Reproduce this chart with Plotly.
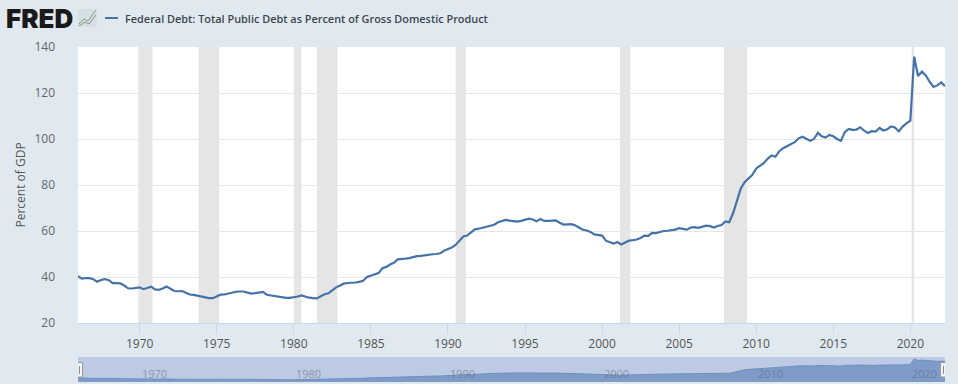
import pandas as pd
import plotly.graph_objects as go

W, H = 958, 384
TITLE = "Federal Debt: Total Public Debt as Percent of Gross Domestic Product"
Y_TITLE = "Percent of GDP"
LOGO = "FRED"
LEGEND_TEXT_X = 123

debt_1966_1975 = [40.4, 39.3, 39.5, 39.5, 39.0, 37.9, 38.7, 39.1, 38.6, 37.3, 37.3, 37.2, 36.3, 35.1, 35.0, 35.4,
                  35.5, 34.7, 35.1, 35.8, 34.6, 34.4, 35.0, 35.9, 34.9, 33.9, 33.8, 33.9, 33.2, 32.4, 32.2, 31.8,
                  31.4, 30.9, 30.8, 30.8, 31.6, 32.3, 32.4, 32.9]
debt_1976_1985 = [33.4, 33.6, 33.7, 33.7, 33.2, 32.8, 33.0, 33.3, 33.5, 32.3, 32.0, 31.8, 31.3, 31.0, 30.9, 30.9,
                  31.1, 31.5, 32.0, 31.4, 31.0, 30.8, 30.7, 31.6, 32.5, 32.9, 34.4, 35.5, 36.3, 37.1, 37.4, 37.4,
                  37.6, 37.9, 38.4, 40.0, 40.6, 41.2, 41.7, 43.8]
debt_1986_1995 = [44.4, 45.4, 46.2, 47.7, 47.7, 48.0, 48.2, 48.7, 49.1, 49.2, 49.5, 49.7, 49.9, 50.0, 50.3, 51.4,
                  52.0, 52.8, 53.9, 56.0, 57.6, 58.0, 59.3, 60.7, 61.0, 61.4, 61.9, 62.3, 62.7, 63.8, 64.2, 64.8,
                  64.5, 64.2, 64.1, 64.4, 64.9, 65.4, 65.0, 64.2]
debt_1996_2005 = [65.2, 64.4, 64.4, 64.5, 64.6, 63.6, 62.8, 62.9, 63.0, 62.5, 61.7, 60.6, 60.2, 59.6, 58.5, 58.3,
                  58.0, 55.8, 55.2, 54.5, 55.2, 54.1, 55.0, 55.8, 56.0, 56.3, 57.0, 58.0, 57.9, 59.2, 59.1, 59.6,
                  60.0, 60.1, 60.3, 60.6, 61.2, 60.9, 60.6, 61.5]
debt_2006_2015 = [61.7, 61.4, 61.8, 62.3, 62.1, 61.5, 62.2, 62.6, 64.2, 63.8, 67.7, 73.5, 78.5, 81.2, 82.9, 84.4,
                  87.2, 88.6, 89.6, 91.5, 92.8, 92.3, 94.7, 96.0, 97.0, 97.7, 98.6, 100.3, 101.0, 100.1, 99.2, 100.0,
                  102.7, 101.2, 100.6, 101.8, 101.2, 100.0, 99.2, 103.0]
debt_2016_2022 = [104.4, 104.0, 104.1, 105.1, 103.6, 102.6, 103.4, 103.2, 104.8, 103.7, 104.2, 105.5, 105.0, 103.3,
                  105.4, 106.8, 108.0, 135.8, 127.4, 129.3, 127.6, 124.9, 122.6, 123.3, 124.6, 123.0]
debt = debt_1966_1975 + debt_1976_1985 + debt_1986_1995 + debt_1996_2005 + debt_2006_2015 + debt_2016_2022
dates = pd.date_range("1966-01-01", periods=len(debt), freq="QS")

recession_start = ["1969-12-01", "1973-11-01", "1980-01-01", "1981-07-01", "1990-07-01", "2001-03-01", "2007-12-01", "2020-02-01"]
recession_end = ["1970-11-01", "1975-03-01", "1980-07-01", "1982-11-01", "1991-03-01", "2001-11-01", "2009-06-01", "2020-04-01"]
main_ticks = [f"{y}-01-01" for y in range(1970, 2021, 5)]
main_tick_labels = [str(y) for y in range(1970, 2021, 5)]
nav_ticks = ["1970-01-01", "1980-01-01", "1990-01-01", "2000-01-01", "2010-01-01", "2020-01-01"]
nav_labels = ["1970", "1980", "1990", "2000", "2010", "2020"]
y_ticks = [20, 40, 60, 80, 100, 120, 140]

FONT = "Open Sans, Liberation Sans, sans-serif"
BG = "#e1e9f0"
LINE = "#4572a7"
x_range = [dates[0], dates[-1]]


def px(x):
    return x / W


def py(y):
    return 1 - y / H


fig = go.Figure()
fig.add_trace(go.Scatter(x=dates, y=debt, mode="lines", name=TITLE, line=dict(color=LINE, width=2.2),
                         xaxis="x", yaxis="y", showlegend=False,
                         hovertemplate="%{x|%Y-%m}: %{y:.1f}<extra></extra>"))
fig.add_trace(go.Scatter(x=dates, y=debt, mode="lines", line=dict(color="#6f8fc0", width=1), fill="tozeroy",
                         fillcolor="#7f9bc8", xaxis="x2", yaxis="y2", showlegend=False, hoverinfo="skip"))

shapes = []
for s, e in zip(recession_start, recession_end):
    shapes.append(dict(type="rect", xref="x", yref="paper", x0=s, x1=e, y0=py(323), y1=py(47),
                       fillcolor="#e5e5e5", line_width=0, layer="below"))
# legend key
shapes.append(dict(type="line", xref="paper", yref="paper", x0=px(105), x1=px(118), y0=py(18), y1=py(18),
                   line=dict(color=LINE, width=2)))
# navigator handles
for edge in (dates[0], dates[-1]):
    shapes.append(dict(type="rect", xref="x2", yref="paper", xsizemode="pixel", xanchor=edge, x0=-4.5, x1=4.5,
                       y0=py(377), y1=py(362.5), fillcolor="#f4f4f4", line=dict(color="#999999", width=1)))
    for off in (-1.5, 1.5):
        shapes.append(dict(type="line", xref="x2", yref="paper", xsizemode="pixel", xanchor=edge, x0=off, x1=off,
                           y0=py(374), y1=py(366), line=dict(color="#888888", width=1)))
# logo chart icon
shapes.append(dict(type="rect", xref="paper", yref="paper", x0=px(78), x1=px(97), y0=py(27), y1=py(9),
                   fillcolor="#d5dfe4", line_width=0))
shapes.append(dict(type="path", xref="paper", yref="paper", line=dict(color="#7f9f6a", width=1),
                   path=f"M {px(79)} {py(24)} L {px(84)} {py(19)} L {px(88)} {py(21)} L {px(96)} {py(10)}"))
shapes.append(dict(type="path", xref="paper", yref="paper", line=dict(color="#8a8a8a", width=1),
                   path=f"M {px(79)} {py(26)} L {px(85)} {py(22)} L {px(89)} {py(24)} L {px(96)} {py(15)}"))

annotations = [
    dict(text=LOGO, xref="paper", yref="paper", x=px(4), y=py(18), xanchor="left", yanchor="middle",
         showarrow=False, font=dict(family="Inter, Liberation Sans, sans-serif", size=26, color="#1a1a1a", weight=900)),
    dict(text=TITLE, xref="paper", yref="paper", x=px(LEGEND_TEXT_X), y=py(18), xanchor="left", yanchor="middle",
         showarrow=False, font=dict(family=FONT, size=10.9, color="#3d4650", weight=600)),
    dict(text=Y_TITLE, xref="paper", yref="paper", x=px(20.5), y=py(185), textangle=-90, showarrow=False,
         xanchor="center", yanchor="middle", font=dict(family=FONT, size=12, color="#555555")),
]
for t, lab in zip(nav_ticks, nav_labels):
    annotations.append(dict(text=lab, xref="x2", yref="paper", x=t, y=py(373.5), xshift=0, xanchor="left",
                            yanchor="middle", showarrow=False, font=dict(family=FONT, size=11, color="rgba(90,100,120,0.55)")))

fig.update_layout(
    width=W, height=H, autosize=False,
    paper_bgcolor=BG, plot_bgcolor="white",
    margin=dict(l=0, r=0, t=0, b=0, autoexpand=False),
    font=dict(family=FONT, color="#666666", size=12),
    shapes=shapes, annotations=annotations,
    xaxis=dict(domain=[px(78), px(945)], anchor="y", type="date", range=x_range,
               tickmode="array", tickvals=main_ticks, ticktext=main_tick_labels,
               ticks="outside", ticklen=10, tickcolor="#ccd6eb", showline=True, linecolor="#ccd6eb",
               showgrid=False, zeroline=False, tickfont=dict(size=12, color="#555555")),
    yaxis=dict(domain=[py(323), py(47)], anchor="x", range=[20, 140], tickmode="array", tickvals=y_ticks,
               gridcolor="#e6e6e6", zeroline=False, ticks="", ticklabelstandoff=22,
               tickfont=dict(size=12, color="#666666")),
    xaxis2=dict(domain=[px(78), px(945)], anchor="y2", type="date", range=x_range, visible=False),
    yaxis2=dict(domain=[py(382), py(357)], anchor="x2", range=[20, 145], visible=False),
)
fig.add_shape(type="rect", xref="x2", yref="paper", x0=dates[0], x1=dates[-1], y0=py(382), y1=py(357),
              fillcolor="#bccae4", line_width=0, layer="below")
fig.write_html("out.html", config=dict(displayModeBar=False),
               post_script="document.body.style.margin='0';document.documentElement.style.overflow='hidden';")
